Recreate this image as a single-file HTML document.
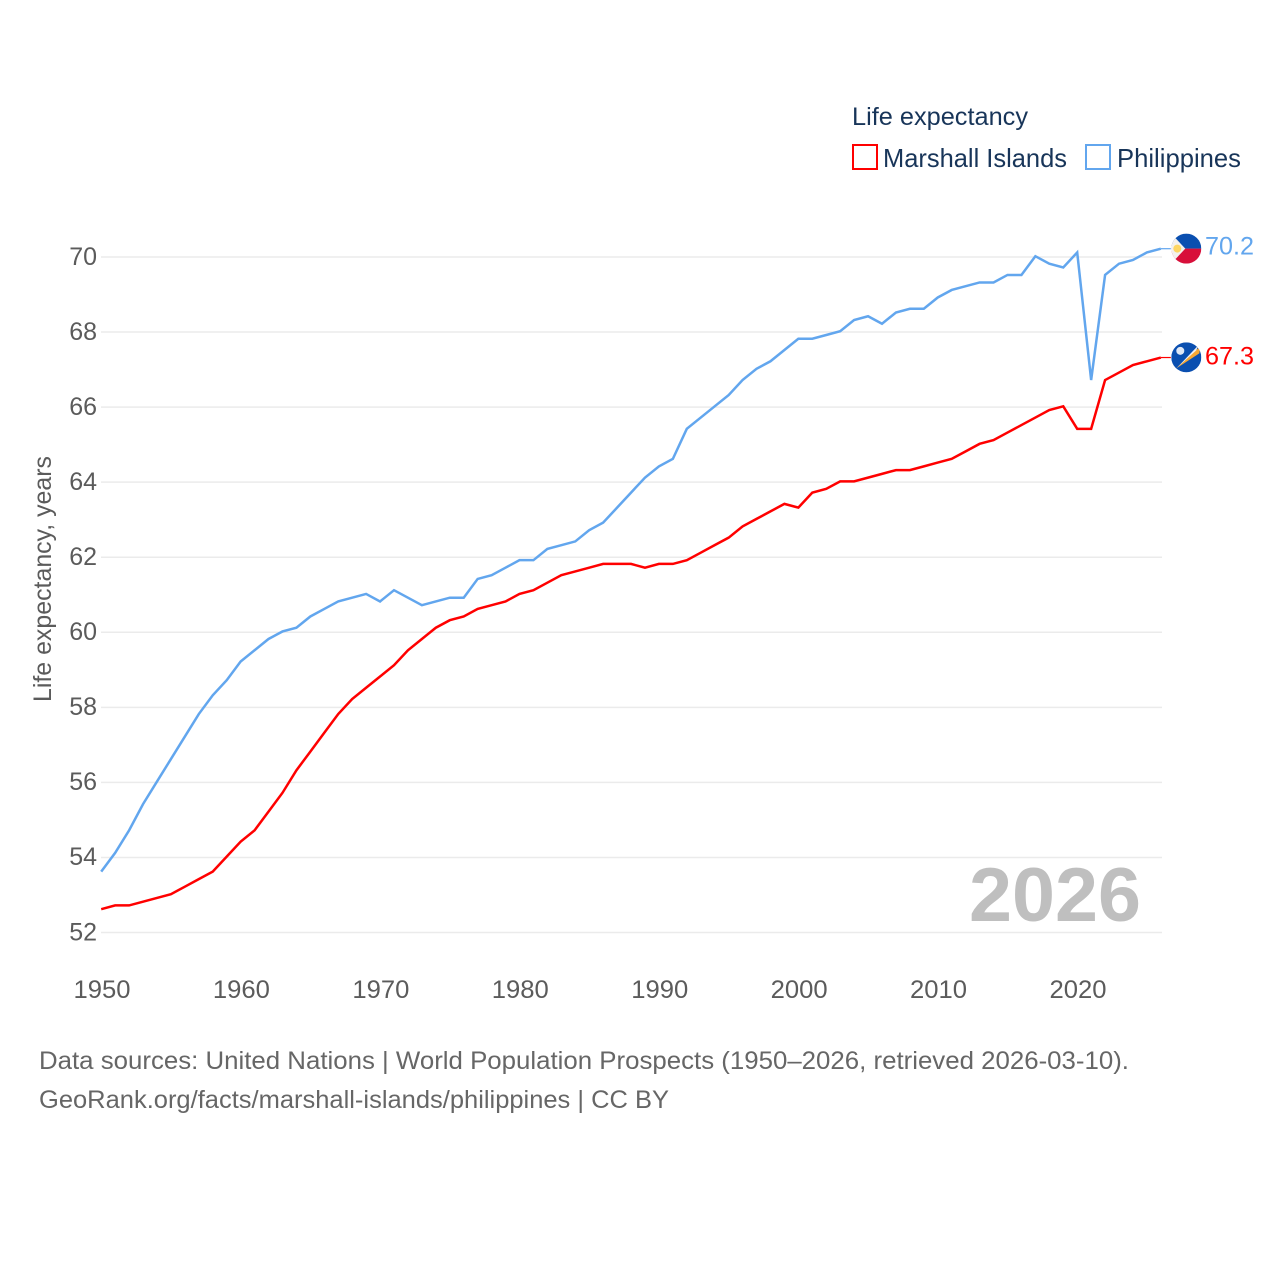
<!DOCTYPE html>
<html lang="en">
<head>
<meta charset="utf-8">
<title>Life expectancy: Marshall Islands vs Philippines</title>
<style>
html,body{margin:0;padding:0;background:#fff}
svg{display:block}
text{font-family:"Liberation Sans",sans-serif}
</style>
</head>
<body>
<svg id="chart" width="1280" height="1280" viewBox="0 0 1280 1280" xmlns="http://www.w3.org/2000/svg">
  <defs>
    <clipPath id="flag-clip"><circle cx="0" cy="0" r="15"/></clipPath>
  </defs>
  <rect width="1280" height="1280" fill="#fff"/>
  <g id="grid"></g>
  <g id="y-ticks"></g>
  <g id="x-ticks"></g>
  <text x="969" y="921" font-size="76" font-weight="700" fill="#bfbfbf" textLength="172" lengthAdjust="spacingAndGlyphs">2026</text>
  <text transform="translate(51,702) rotate(-90)" font-size="25" fill="#5b5b5b" textLength="246" lengthAdjust="spacingAndGlyphs">Life expectancy, years</text>
  <g id="series" transform="translate(-0.3,-0.8)"></g>

  <g id="flag-ph">
    <g clip-path="url(#flag-clip)">
      <rect x="-15" y="-15" width="30" height="15" fill="#0a4fb0"/>
      <rect x="-15" y="0" width="30" height="15" fill="#d80f3a"/>
      <polygon points="-15,-15 -15,15 -1,0" fill="#f3f1ee"/>
      <circle cx="-9" cy="0" r="4" fill="#fdd663"/>
    </g>
  </g>
  <g id="flag-mh">
    <g clip-path="url(#flag-clip)">
      <rect x="-15" y="-15" width="30" height="30" fill="#0a4fb0"/>
      <polygon points="-10,11 14,-11 13,-4" fill="#f7a833"/>
      <polygon points="-10,11 12,-12 10,-7" fill="#f3f1ee"/>
      <circle cx="-6" cy="-6.5" r="4" fill="#dfe8f5"/>
    </g>
  </g>
  <text id="value-ph" x="1205" font-size="25" fill="#62a6ee" textLength="49" lengthAdjust="spacingAndGlyphs"></text>
  <text id="value-mh" x="1205" font-size="25" fill="#ff0000" textLength="49" lengthAdjust="spacingAndGlyphs"></text>

  <g>
    <text x="852" y="125" font-size="25" fill="#183559" textLength="176" lengthAdjust="spacingAndGlyphs">Life expectancy</text>
    <g>
      <rect x="853" y="145" width="24" height="24" fill="none" stroke="#ff0000" stroke-width="2"/>
      <text x="883" y="167" font-size="26" fill="#183559" textLength="184" lengthAdjust="spacingAndGlyphs">Marshall Islands</text>
    </g>
    <g>
      <rect x="1086" y="145" width="24" height="24" fill="none" stroke="#62a6ee" stroke-width="2"/>
      <text x="1117" y="167" font-size="26" fill="#183559" textLength="124" lengthAdjust="spacingAndGlyphs">Philippines</text>
    </g>
  </g>

  <text x="39" y="1069" font-size="25" fill="#666666" textLength="1090" lengthAdjust="spacingAndGlyphs">Data sources: United Nations | World Population Prospects (1950–2026, retrieved 2026-03-10).</text>
  <text x="39" y="1108" font-size="25" fill="#666666" textLength="630" lengthAdjust="spacingAndGlyphs">GeoRank.org/facts/marshall-islands/philippines | CC BY</text>
</svg>
<script>
const firstYear = 1950;
const lastYear = 2026;
const yTickValues = [52, 54, 56, 58, 60, 62, 64, 66, 68, 70];
const xTickValues = [1950, 1960, 1970, 1980, 1990, 2000, 2010, 2020];
const philippines = [
  53.6, 54.1, 54.7, 55.4, 56.0, 56.6, 57.2, 57.8, 58.3, 58.7,
  59.2, 59.5, 59.8, 60.0, 60.1, 60.4, 60.6, 60.8, 60.9, 61.0,
  60.8, 61.1, 60.9, 60.7, 60.8, 60.9, 60.9, 61.4, 61.5, 61.7,
  61.9, 61.9, 62.2, 62.3, 62.4, 62.7, 62.9, 63.3, 63.7, 64.1,
  64.4, 64.6, 65.4, 65.7, 66.0, 66.3, 66.7, 67.0, 67.2, 67.5,
  67.8, 67.8, 67.9, 68.0, 68.3, 68.4, 68.2, 68.5, 68.6, 68.6,
  68.9, 69.1, 69.2, 69.3, 69.3, 69.5, 69.5, 70.0, 69.8, 69.7,
  70.1, 66.7, 69.5, 69.8, 69.9, 70.1, 70.2
];
const marshallIslands = [
  52.6, 52.7, 52.7, 52.8, 52.9, 53.0, 53.2, 53.4, 53.6, 54.0,
  54.4, 54.7, 55.2, 55.7, 56.3, 56.8, 57.3, 57.8, 58.2, 58.5,
  58.8, 59.1, 59.5, 59.8, 60.1, 60.3, 60.4, 60.6, 60.7, 60.8,
  61.0, 61.1, 61.3, 61.5, 61.6, 61.7, 61.8, 61.8, 61.8, 61.7,
  61.8, 61.8, 61.9, 62.1, 62.3, 62.5, 62.8, 63.0, 63.2, 63.4,
  63.3, 63.7, 63.8, 64.0, 64.0, 64.1, 64.2, 64.3, 64.3, 64.4,
  64.5, 64.6, 64.8, 65.0, 65.1, 65.3, 65.5, 65.7, 65.9, 66.0,
  65.4, 65.4, 66.7, 66.9, 67.1, 67.2, 67.3
];

const NS = 'http://www.w3.org/2000/svg';
function xScale(year) { return 101.5 + (year - 1950) * (1077.5 - 101.5) / 70; }
function yScale(v) { return 932.5 - (v - 52) * (932.5 - 257) / 18; }

const gridGroup = document.getElementById('grid');
const yGroup = document.getElementById('y-ticks');
yTickValues.forEach(function (v) {
  const ln = document.createElementNS(NS, 'line');
  
  
  ln.setAttribute('x1', 101);
  ln.setAttribute('x2', 1162);
  ln.setAttribute('y1', yScale(v));
  ln.setAttribute('y2', yScale(v));
  ln.setAttribute('stroke', '#ebebeb');
  ln.setAttribute('stroke-width', 1.5);
  gridGroup.appendChild(ln);
  const t = document.createElementNS(NS, 'text');
  
  
  t.setAttribute('x', 97);
  t.setAttribute('y', yScale(v) + 7.8);
  t.setAttribute('text-anchor', 'end');
  t.setAttribute('font-size', 25);
  t.setAttribute('fill', '#5b5b5b');
  t.textContent = String(v);
  yGroup.appendChild(t);
});

const xGroup = document.getElementById('x-ticks');
xTickValues.forEach(function (yr) {
  const t = document.createElementNS(NS, 'text');
  
  
  t.setAttribute('x', xScale(yr) + 0.5);
  t.setAttribute('y', 998);
  t.setAttribute('text-anchor', 'middle');
  t.setAttribute('font-size', 25);
  t.setAttribute('fill', '#5b5b5b');
  t.setAttribute('textLength', 57);
  t.setAttribute('lengthAdjust', 'spacingAndGlyphs');
  t.textContent = String(yr);
  xGroup.appendChild(t);
});

function linePoints(values) {
  return values.map(function (v, i) {
    return xScale(firstYear + i).toFixed(2) + ',' + yScale(v).toFixed(2);
  }).join(' ');
}

const seriesGroup = document.getElementById('series');

const phLine = document.createElementNS(NS, 'polyline');


phLine.setAttribute('points', linePoints(philippines));
phLine.setAttribute('fill', 'none');
phLine.setAttribute('stroke', '#62a6ee');
phLine.setAttribute('stroke-width', 2.5);
seriesGroup.appendChild(phLine);

const mhLine = document.createElementNS(NS, 'polyline');


mhLine.setAttribute('points', linePoints(marshallIslands));
mhLine.setAttribute('fill', 'none');
mhLine.setAttribute('stroke', '#ff0000');
mhLine.setAttribute('stroke-width', 2.5);
seriesGroup.appendChild(mhLine);

const phEnd = philippines[philippines.length - 1];
const mhEnd = marshallIslands[marshallIslands.length - 1];

const phConn = document.createElementNS(NS, 'line');


phConn.setAttribute('x1', xScale(lastYear));
phConn.setAttribute('x2', xScale(lastYear) + 10);
phConn.setAttribute('y1', yScale(phEnd));
phConn.setAttribute('y2', yScale(phEnd));
phConn.setAttribute('stroke', '#62a6ee');
phConn.setAttribute('stroke-width', 1.2);
seriesGroup.appendChild(phConn);

const mhConn = document.createElementNS(NS, 'line');


mhConn.setAttribute('x1', xScale(lastYear));
mhConn.setAttribute('x2', xScale(lastYear) + 10);
mhConn.setAttribute('y1', yScale(mhEnd));
mhConn.setAttribute('y2', yScale(mhEnd));
mhConn.setAttribute('stroke', '#ff0000');
mhConn.setAttribute('stroke-width', 1.2);
seriesGroup.appendChild(mhConn);

document.getElementById('flag-ph').setAttribute('transform', 'translate(1186.3,' + (yScale(phEnd) - 0.9) + ')');
document.getElementById('flag-mh').setAttribute('transform', 'translate(1186.3,' + (yScale(mhEnd) - 1) + ')');

const phVal = document.getElementById('value-ph');
phVal.setAttribute('y', yScale(phEnd) + 5);
phVal.textContent = phEnd.toFixed(1);
const mhVal = document.getElementById('value-mh');
mhVal.setAttribute('y', yScale(mhEnd) + 6);
mhVal.textContent = mhEnd.toFixed(1);
</script>
</body>
</html>
